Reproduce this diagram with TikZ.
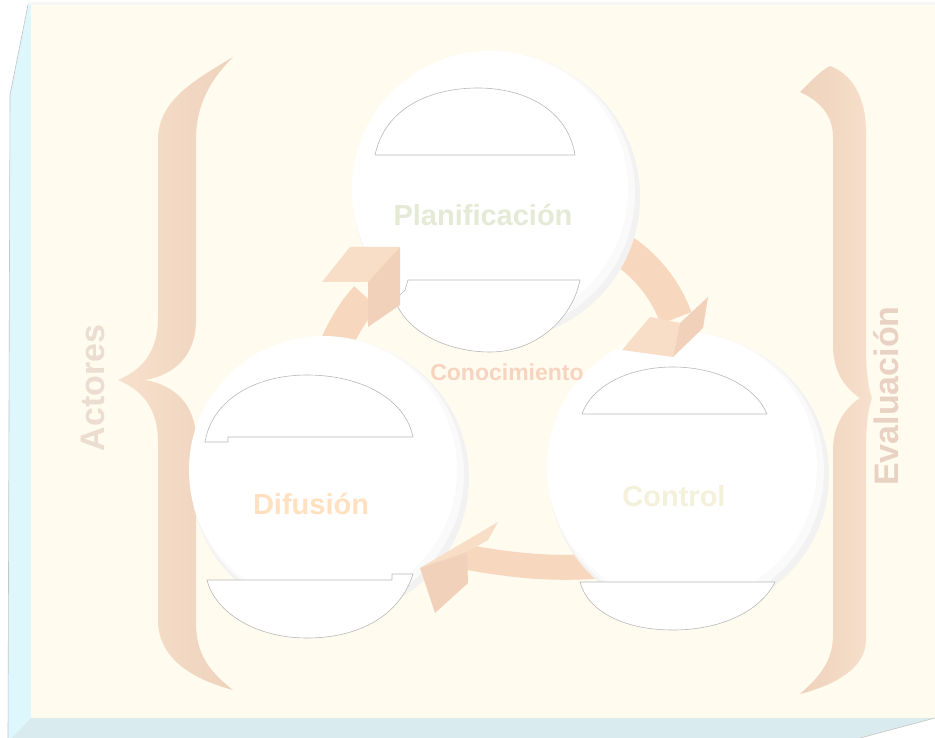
\documentclass[tikz,border=0pt]{standalone}
\usepackage{fontspec}
\setmainfont{Liberation Sans}
\definecolor{cream}{HTML}{FFFBEF}
\definecolor{leftface}{HTML}{DDF7FD}
\definecolor{bottomface}{HTML}{DAEBEF}
\definecolor{braceL}{HTML}{F7E0CC}
\definecolor{braceD}{HTML}{EED2BC}
\definecolor{bandc}{HTML}{F7D7BD}
\definecolor{headA}{HTML}{F8DDC7}
\definecolor{headB}{HTML}{F1D1B9}
\definecolor{plantxt}{HTML}{E4EAD5}
\definecolor{diftxt}{HTML}{FFE0C0}
\definecolor{ctrltxt}{HTML}{F4F1DA}
\definecolor{contxt}{HTML}{F6D4C0}
\definecolor{acttxt}{HTML}{EBDDCF}
\definecolor{evatxt}{HTML}{E9D2C3}
\begin{document}
\begin{tikzpicture}[x=1pt,y=-1pt,
  ball/.style={circle, fill=white, inner sep=0pt},
  capline/.style={draw=gray!55, line width=0.6pt, fill=white},
  lbl/.style={font=\bfseries, inner sep=0pt}]
\useasboundingbox (0,0) rectangle (935,738);
\fill[white] (0,0) rectangle (935,738);
% box faces
\fill[gray!6] (28,2) rectangle (935,5);
\fill[leftface] (28,5) -- (31,5) -- (31,720) -- (12,738) -- (8,738) -- (10,95) -- cycle;
\fill[bottomface] (31,718) -- (935,718) -- (860,738) -- (12,738) -- cycle;
\fill[cream] (31,5) rectangle (935,718);
\draw[gray!45, line width=0.6pt] (28,5) -- (10,95) -- (8,738);
\draw[gray!45, line width=0.6pt] (935,718) -- (860,738);
% left brace
\shade[left color=braceL, right color=braceD]
  (233,57) .. controls (195,80) and (158,100) .. (158,140) -- (158,318)
  .. controls (158,352) and (142,370) .. (118,380)
  .. controls (142,390) and (158,408) .. (158,442) -- (158,620)
  .. controls (158,660) and (195,680) .. (233,690)
  .. controls (210,672) and (196,655) .. (196,622) -- (196,440)
  .. controls (196,405) and (175,385) .. (145,380)
  .. controls (175,375) and (196,355) .. (196,320) -- (196,140)
  .. controls (196,105) and (210,80) .. (233,57) -- cycle;
% right brace
\shade[left color=braceD, right color=braceL]
  (800,92) .. controls (815,77) and (822,70) .. (830,66)
  .. controls (852,74) and (866,97) .. (866,132) -- (866,345)
  .. controls (866,372) and (868,388) .. (872,398)
  .. controls (868,410) and (866,425) .. (866,452) -- (866,640)
  .. controls (866,668) and (835,685) .. (800,694)
  .. controls (818,678) and (833,662) .. (833,635) -- (833,450)
  .. controls (833,425) and (845,408) .. (860,398)
  .. controls (845,388) and (833,372) .. (833,345) -- (833,137)
  .. controls (833,114) and (818,100) .. (800,92) -- cycle;
% ring bands
\draw[bandc, line width=32pt] (318,420) .. controls (322,370) and (340,325) .. (366,297);
\draw[bandc, line width=33pt] (598,238) .. controls (632,250) and (662,280) .. (676,318);
\draw[bandc, line width=25pt] (465,557) .. controls (505,564) and (545,570) .. (600,566);
% circles with soft shadow
\fill[gray!10] (497,197) circle (143);
\fill[gray!4] (494,193) circle (141);
\node[ball, minimum size=276pt] (plan) at (490,189) {};
\fill[gray!10] (330,478) circle (139);
\fill[gray!4] (327,474) circle (137);
\node[ball, minimum size=268pt] (dif) at (323,470) {};
\fill[gray!10] (689,475) circle (140);
\fill[gray!4] (686,471) circle (138);
\node[ball, minimum size=270pt] (ctrl) at (682,467) {};
% inner caps
\path[capline] (375,155) .. controls (385,108) and (430,88) .. (478,88)
  .. controls (525,88) and (568,110) .. (575,155) -- cycle;
\path[capline] (408,280) -- (580,280) .. controls (572,320) and (535,352) .. (490,352)
  .. controls (445,352) and (405,330) .. (395,300) -- (405,290) -- cycle;
\path[capline] (205,442) -- (228,442) -- (228,437) -- (413,437)
  .. controls (405,398) and (360,375) .. (307,375)
  .. controls (255,375) and (212,400) .. (205,442) -- cycle;
\path[capline] (207,580) -- (392,580) -- (392,574) -- (413,574)
  .. controls (400,615) and (360,638) .. (307,638)
  .. controls (255,638) and (215,612) .. (207,580) -- cycle;
\path[capline] (582,414) -- (767,414) .. controls (755,385) and (715,367) .. (673,367)
  .. controls (630,367) and (592,385) .. (582,414) -- cycle;
\path[capline] (580,582) -- (775,582) .. controls (760,612) and (720,630) .. (673,630)
  .. controls (625,630) and (588,612) .. (580,582) -- cycle;
% arrowheads
\fill[headA] (350,247) -- (400,247) -- (368,282) -- (322,282) -- cycle;
\fill[headB] (400,247) -- (400,305) -- (368,327) -- (368,282) -- cycle;
\fill[headA] (622,350) -- (650,317) -- (680,323) -- (673,357) -- cycle;
\fill[headB] (680,323) -- (708,297) -- (703,328) -- (673,357) -- cycle;
\fill[headA] (420,568) -- (498,522) -- (488,540) -- (467,552) -- cycle;
\fill[headB] (420,568) -- (467,552) -- (468,583) -- (435,613) -- cycle;
% texts
\node[lbl, text=plantxt, font=\bfseries\fontsize{29}{30}\selectfont] (tplan) at (483,215) {Planificación};
\node[lbl, text=diftxt, font=\bfseries\fontsize{29}{30}\selectfont] (tdif) at (311,504) {Difusión};
\node[lbl, text=ctrltxt, font=\bfseries\fontsize{29}{30}\selectfont] (tctrl) at (674,496) {Control};
\node[lbl, text=contxt, font=\bfseries\fontsize{23}{24}\selectfont] (tcon) at (507,372) {Conocimiento};
\node[lbl, text=acttxt, font=\bfseries\fontsize{34}{36}\selectfont, rotate=90] (tact) at (93,388) {Actores};
\node[lbl, text=evatxt, font=\bfseries\fontsize{34}{36}\selectfont, rotate=90] (teva) at (886,396) {Evaluación};
\end{tikzpicture}
\end{document}
